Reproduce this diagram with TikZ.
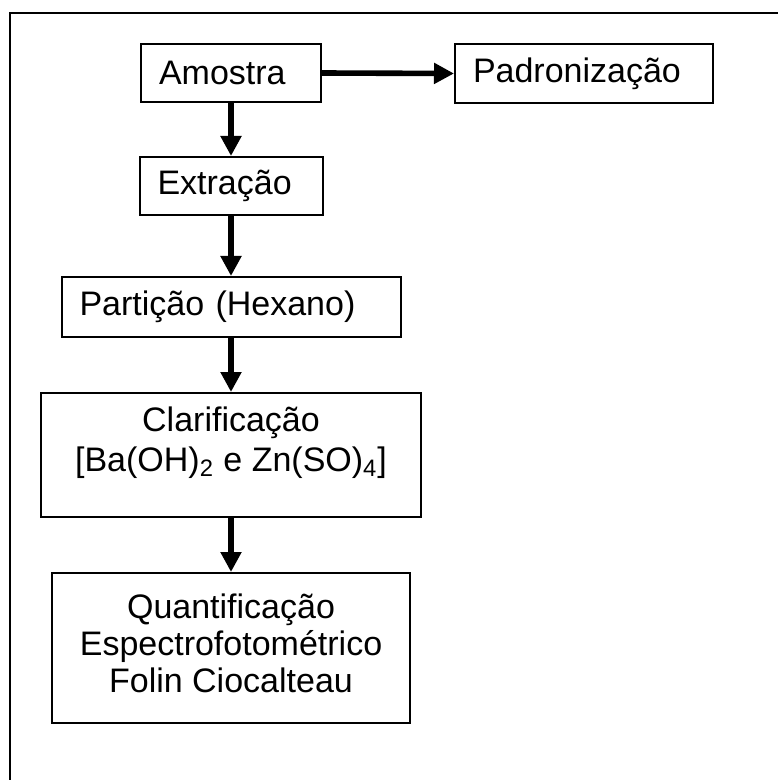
\documentclass[tikz,border=0pt]{standalone}
\usepackage{fontspec}
\setmainfont{Liberation Sans}
\usepackage{tikz}
\usetikzlibrary{arrows.meta,positioning}
\tikzset{
  caixa/.style={draw,line width=1pt,inner sep=0pt,align=center,font=\fontsize{17}{20}\selectfont},
  esq/.style={align=left,inner xsep=9pt},
  seta/.style={line width=2.8pt,-{Triangle[length=10pt,width=10pt]}}
}

\begin{document}
\begin{tikzpicture}[x=0.5pt,y=-0.5pt]
  \useasboundingbox (0,0) rectangle (777,780);
  % moldura (cortada a direita e em baixo)
  \draw[line width=1.3pt] (10,790) -- (10,13) -- (790,13);
  % etapas
  \node[caixa,esq,text width=72pt,minimum height=29pt] (amostra) at (231,73){Amostra};
  \node[caixa,esq,text width=111pt,minimum height=29.5pt] (padron) at (584,73.5){Padronização};
  \node[caixa,esq,text width=73.5pt,minimum height=29pt] (extracao) at (231,186){Extração};
  \node[caixa,esq,text width=151.5pt,minimum height=30pt] (particao) at (231,307){Partição (Hexano)};
  \node[caixa,minimum width=190pt,minimum height=62pt] (clarif) at (231,455){};
  \node[font=\fontsize{17}{20}\selectfont,align=center,inner sep=0pt] (clarifTxt) at (231,443)
    {Clarificação\\{}[Ba(OH)\textsubscript{2} e Zn(SO)\textsubscript{4}]};
  \node[caixa,minimum width=179pt,minimum height=75pt] (quant) at (231,648){};
  \node[font=\fontsize{17}{18.5}\selectfont,align=center,inner sep=0pt] (quantTxt) at (231,643)
    {Quantificação\\Espectrofotométrico\\Folin Ciocalteau};
  % setas
  \draw[seta] (amostra.east) -- (padron.west);
  \draw[seta] (amostra.south) -- (extracao.north);
  \draw[seta] (extracao.south) -- (particao.north);
  \draw[seta] (particao.south) -- (clarif.north);
  \draw[seta] (clarif.south) -- (quant.north);
\end{tikzpicture}
\end{document}
